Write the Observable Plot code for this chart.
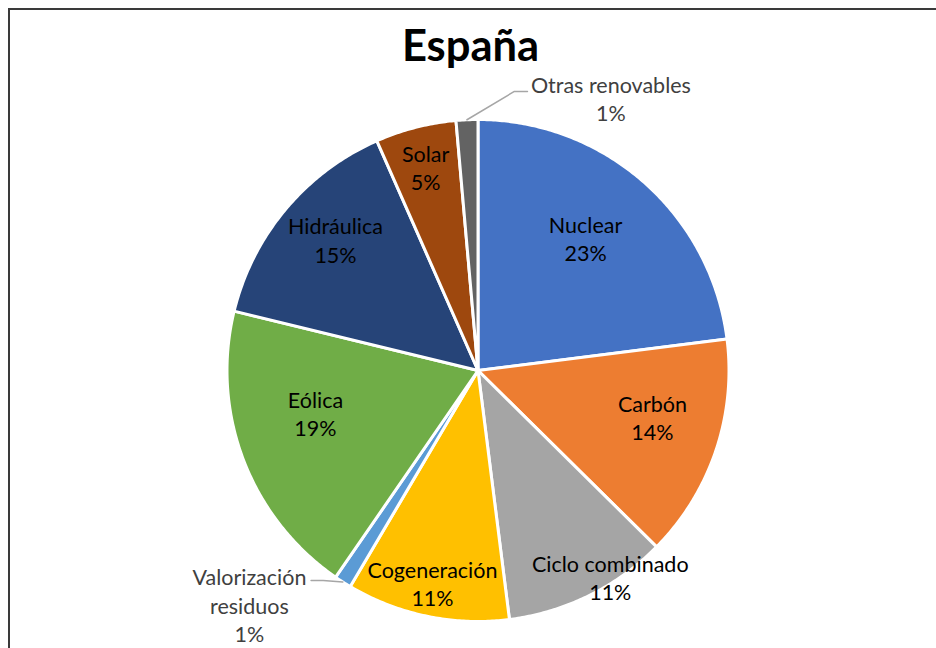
<!DOCTYPE html>
<html><head><meta charset="utf-8">
<script src="https://cdn.jsdelivr.net/npm/d3@7"></script>
<script src="https://cdn.jsdelivr.net/npm/@observablehq/plot@0.6"></script>
<style>
html,body{margin:0;padding:0;background:#fff;overflow:hidden;width:936px;height:648px;}
#frame{position:absolute;left:8px;top:8px;width:1000px;height:700px;border:2px solid #3a3a3a;box-sizing:border-box;}
#title{position:absolute;left:0;width:941px;top:18px;text-align:center;font:bold 43.5px/1.2 Lato,sans-serif;color:#000;}
#chart{position:absolute;left:0;top:40px;}
</style></head><body>
<div id="frame"></div>
<div id="chart"></div>
<div id="title">España</div>
<script>
// Data
const categories = ["Nuclear","Carbón","Ciclo combinado","Cogeneración","Valorización residuos","Eólica","Hidráulica","Solar","Otras renovables"];
const labelNames = ["Nuclear","Carbón","Ciclo combinado","Cogeneración","Valorización\nresiduos","Eólica","Hidráulica","Solar","Otras renovables"];
const values = [23.0, 14.4, 10.6, 10.5, 1.1, 19.2, 14.6, 5.2, 1.4];
const colors = ["#4472C4","#ED7D31","#A5A5A5","#FFC000","#5B9BD5","#70AD47","#264478","#9E480E","#636363"];

// Layout of labels: radius factor and angular shift (deg) from slice mid-angle
const labelPlacement = [
  {r:0.675, shift:-2.0, outside:false},
  {r:0.721, shift:-3.3, outside:false},
  {r:0.984, shift:-6.1, outside:false},
  {r:0.872, shift:0.3, outside:false},
  {r:1.309, shift:11.5, outside:true},
  {r:0.671, shift:5.7, outside:false},
  {r:0.766, shift:2.2, outside:false},
  {r:0.828, shift:-0.2, outside:false},
  {r:1.200, shift:28.7, outside:true}
];
// Leader line elbows (data units) for outside labels
const leaderElbows = {
  4: [[-0.617,-0.837],[-0.665,-0.837]],
  8: [[0.145,1.112],[0.197,1.112]]
};

const total = d3.sum(values);
const arcs = d3.pie().sort(null).value(d => d)(values);

const slicePts = [];
arcs.forEach((a, i) => {
  const name = categories[i];
  slicePts.push({name, x:0, y:0});
  const n = Math.max(2, Math.ceil((a.endAngle - a.startAngle) / (Math.PI/360)));
  for (let k = 0; k <= n; k++) {
    const t = a.startAngle + (a.endAngle - a.startAngle) * k / n;
    slicePts.push({name, x:Math.sin(t), y:Math.cos(t)});
  }
});

const labels = arcs.map((a, i) => {
  const p = labelPlacement[i];
  const t = (a.startAngle + a.endAngle)/2 + p.shift * Math.PI/180;
  return {
    name: categories[i],
    x: p.r * Math.sin(t), y: p.r * Math.cos(t),
    text: labelNames[i] + "\n" + Math.round(values[i]/total*100) + "%",
    outside: p.outside
  };
});

const leaderPts = [];
Object.entries(leaderElbows).forEach(([i, pts]) => {
  const a = arcs[+i];
  const t = (a.startAngle + a.endAngle)/2;
  leaderPts.push({name:categories[i], x:Math.sin(t), y:Math.cos(t)});
  pts.forEach(([x,y]) => leaderPts.push({name:categories[i], x, y}));
});

const cx = 477.5, cy = 370 - 40, R = 251;
const chart = Plot.plot({
  width: 936, height: 608,
  margin: 0,
  x: {domain:[-1,1], range:[cx-R, cx+R], axis:null},
  y: {domain:[-1,1], range:[cy+R, cy-R], axis:null},
  color: {type:"ordinal", domain:categories, range:colors},
  style: {fontFamily:"Lato, sans-serif", background:"transparent"},
  marks: [
    Plot.line(slicePts, {x:"x", y:"y", z:"name", fill:"name", stroke:"white", strokeWidth:3, strokeLinejoin:"round", curve:"linear-closed"}),
    Plot.line(leaderPts, {x:"x", y:"y", z:"name", stroke:"#A6A6A6", strokeWidth:1.5}),
    Plot.text(labels.filter(d => !d.outside), {x:"x", y:"y", text:"text", fill:"#000", fontSize:21.5, lineHeight:1.31, dy:-2}),
    Plot.text(labels.filter(d => d.outside), {x:"x", y:"y", text:"text", fill:"#404040", fontSize:21.5, lineHeight:1.31, dy:-2})
  ]
});
document.getElementById("chart").appendChild(chart);
</script>
</body></html>
